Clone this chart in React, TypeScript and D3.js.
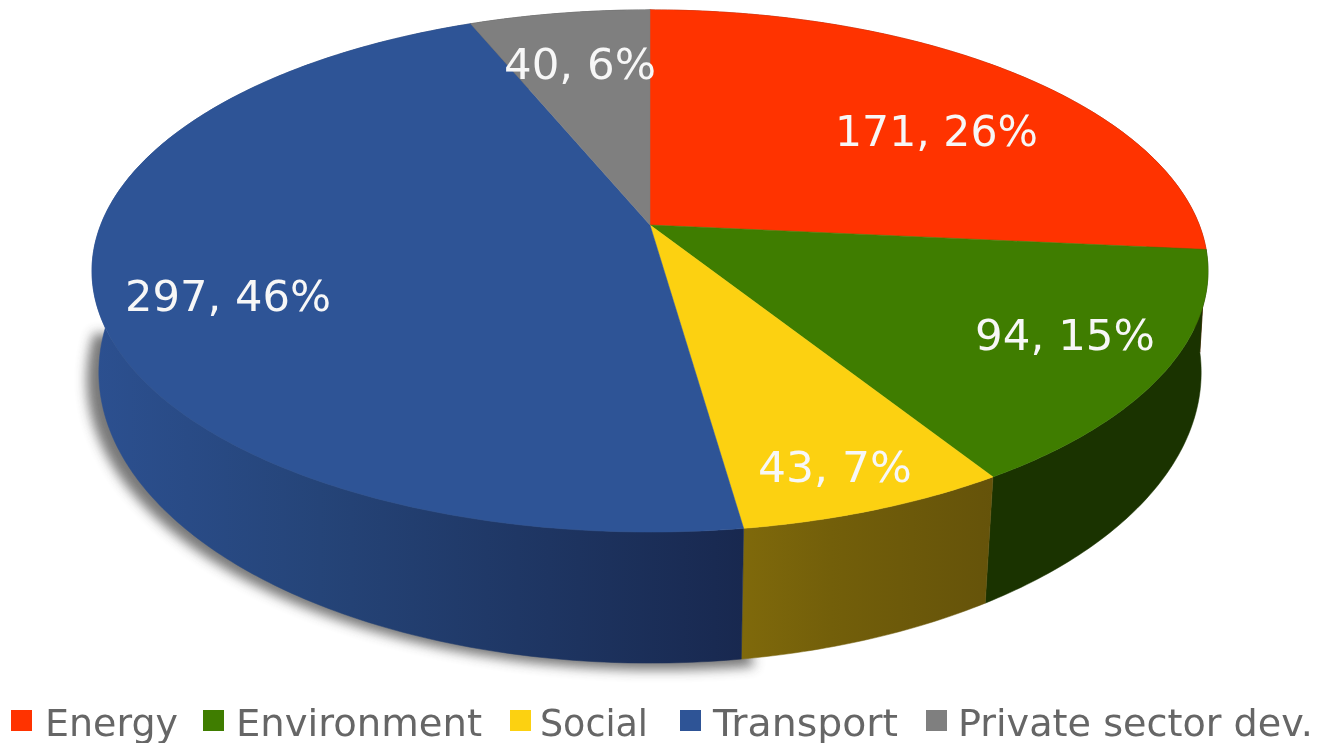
import React from "react";
import * as d3 from "d3";

const categories = ["Energy", "Environment", "Social", "Transport", "Private sector dev."];
const values = [171, 94, 43, 297, 40];
const percents = [26, 15, 7, 46, 6];
const topColors = ["#ff3300", "#3f7d00", "#fcd111", "#2e5496", "#7f7f7f"];
const sideLeft = ["#7a1800", "#1a3300", "#7f690b", "#2c5090", "#404040"];
const sideMid = ["#7a1800", "#1a3300", "#735f0a", "#254478", "#404040"];
const sideRight = ["#7a1800", "#1a3300", "#65530a", "#18284f", "#404040"];

// layout (not data)
const labelLayout = [
  { x: 835, w: 203, y: 146 },
  { x: 975, w: 180, y: 350 },
  { x: 758, w: 154, y: 482 },
  { x: 125, w: 206, y: 311 },
  { x: 504, w: 152, y: 79 },
];
const legendLayout = [
  { sq: 11, x: 45, w: 133 },
  { sq: 203, x: 236, w: 246 },
  { sq: 510, x: 540, w: 108 },
  { sq: 680, x: 713, w: 185 },
  { sq: 926, x: 958, w: 355 },
];

const CX = 650, CY = 225, K = 549.3, A = 253, C = -0.176;
const BOT_S = 0.99, BOT_C = -0.163, BOT_D = 100, BOT_A = 283;

// perspective projection of the unit disc: top face and bottom rim
const topX = (t: number) => CX + (K * Math.sin(t)) / (1 + C * -Math.cos(t));
const topY = (t: number) => CY + (A * -Math.cos(t)) / (1 + C * -Math.cos(t));
const botX = (t: number, s = BOT_S) => CX + (s * K * Math.sin(t)) / (1 + BOT_C * -Math.cos(t));
const botY = (t: number) => CY + BOT_D + (BOT_A * -Math.cos(t)) / (1 + BOT_C * -Math.cos(t));

const pieGen = d3.pie<number>().sort(null).value((d) => d);
const slices = pieGen(values);
const line = d3.line();
type P = [number, number];

function samples(a0: number, a1: number) {
  const n = Math.max(2, Math.ceil((a1 - a0) * 80));
  return d3.range(n + 1).map((i) => a0 + ((a1 - a0) * i) / n);
}

export default function App() {
  const arcs = slices.map((s) => samples(s.startAngle, s.endAngle));
  const shadowArc = arcs[3].filter((t) => t <= 1.5 * Math.PI);
  return (
    <svg
      width={1325}
      height={743}
      style={{ position: "absolute", left: 0, top: 0, background: "#fff" }}
      fontFamily="'DejaVu Sans', Verdana, sans-serif"
    >
      <defs>
        <filter id="sh" x="-10%" y="-10%" width="120%" height="120%">
          <feGaussianBlur stdDeviation="6" />
        </filter>
        <filter id="soft" x="-2%" y="-5%" width="104%" height="110%">
          <feGaussianBlur stdDeviation="0.6" />
        </filter>
        {slices.map((_, i) => {
          const xs = arcs[i].map((t) => topX(t));
          return (
            <linearGradient
              key={i}
              id={`side${i}`}
              gradientUnits="userSpaceOnUse"
              x1={i === 3 ? 92 : d3.min(xs)}
              x2={i === 3 ? 745 : d3.max(xs)}
              y1={0}
              y2={0}
            >
              <stop offset="0" stopColor={sideLeft[i]} />
              <stop offset="0.35" stopColor={sideMid[i]} />
              <stop offset="1" stopColor={sideRight[i]} />
            </linearGradient>
          );
        })}
      </defs>

      <path
        d={
          line(
            shadowArc
              .map((t) => [botX(t, BOT_S * 1.04) + 10, botY(t) + 7] as P)
              .concat([[650, 400] as P])
          ) + "Z"
        }
        fill="#404040"
        opacity={0.7}
        filter="url(#sh)"
      />

      {slices.map((_, i) => (
        <path
          key={`s${i}`}
          d={
            line(
              arcs[i]
                .map((t) => [topX(t), topY(t)] as P)
                .concat(arcs[i].slice().reverse().map((t) => [botX(t), botY(t)] as P))
            ) + "Z"
          }
          fill={`url(#side${i})`}
          stroke={`url(#side${i})`}
          strokeWidth={0.5}
        />
      ))}

      {slices.map((_, i) => (
        <path
          key={`t${i}`}
          d={line([[CX, CY] as P].concat(arcs[i].map((t) => [topX(t), topY(t)] as P))) + "Z"}
          fill={topColors[i]}
          stroke={topColors[i]}
          strokeWidth={0.5}
        />
      ))}

      <g filter="url(#soft)">
        {values.map((v, i) => (
          <text
            key={`l${i}`}
            x={labelLayout[i].x}
            y={labelLayout[i].y}
            fontSize={42}
            fill="#f7f7f7"
            textLength={labelLayout[i].w}
            lengthAdjust="spacingAndGlyphs"
          >
            {`${v}, ${percents[i]}%`}
          </text>
        ))}
      </g>

      {categories.map((c, i) => (
        <g key={`lg${i}`}>
          <rect x={legendLayout[i].sq} y={710} width={21} height={21} fill={topColors[i]} />
          <text
            x={legendLayout[i].x}
            y={736}
            fontSize={37.5}
            fill="#666"
            filter="url(#soft)"
            textLength={legendLayout[i].w}
            lengthAdjust="spacingAndGlyphs"
          >
            {c}
          </text>
        </g>
      ))}
    </svg>
  );
}
